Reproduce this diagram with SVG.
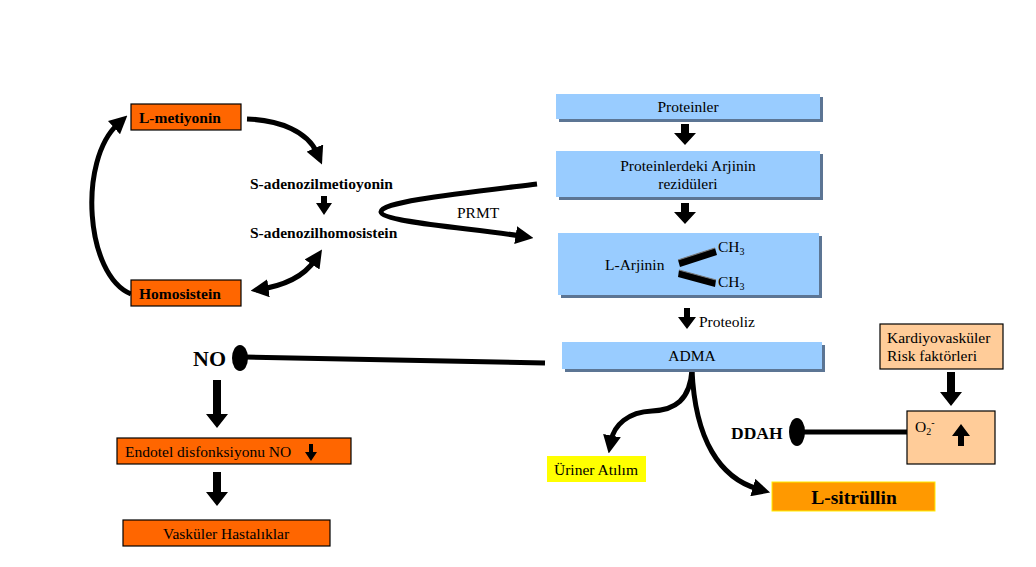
<svg xmlns="http://www.w3.org/2000/svg" width="1036" height="567" viewBox="0 0 1036 567">
<style>
text{font-family:'Liberation Serif','DejaVu Serif',serif;fill:#000}
.b{font-weight:bold}
.s13{font-size:15.5px}
.or{fill:#FF6600;stroke:#000;stroke-width:1.2}
.bl{fill:#99CCFF}
.sh{fill:#5C7594}
.ln{fill:none;stroke:#000;stroke-width:5}
</style>
<defs>
<marker id="ah" viewBox="0 0 10 10" refX="3" refY="5" markerWidth="3.6" markerHeight="3.6" orient="auto" markerUnits="strokeWidth">
<path d="M0,0 L10,5 L0,10 Z" fill="#000"/>
</marker>
<marker id="as" viewBox="0 0 10 10" refX="7" refY="5" markerWidth="3.6" markerHeight="3.6" orient="auto-start-reverse" markerUnits="strokeWidth">
<path d="M0,0 L10,5 L0,10 Z" fill="#000"/>
</marker>
</defs>
<rect width="1036" height="567" fill="#fff"/>

<g id="connectors">
<path class="ln" d="M247,119 C280,120 308,132 317,153" marker-end="url(#ah)"/>
<path class="ln" d="M131,294 C85,275 78,160 118,124" marker-end="url(#ah)"/>
<path class="ln" d="M256,290 C285,286 305,275 315,260" marker-start="url(#as)" marker-end="url(#ah)"/>
<path d="M321,196 h6 v7 h5 l-8,12 l-8,-12 h5z" fill="#000"/>
<path class="ln" d="M537,184 C455,194 380,202 381,212 C382,222 470,228 521,236" marker-end="url(#ah)"/>
<path d="M681,124 h8 v9 h7 l-11,12 l-11,-12 h7z" fill="#000"/>
<path d="M681,203 h8 v9 h7 l-11,12 l-11,-12 h7z" fill="#000"/>
<path d="M684,308 h6 v9 h6 l-9,12 l-9,-12 h6z" fill="#000"/>
<path d="M245,357 L545,363" fill="none" stroke="#000" stroke-width="5"/>
<ellipse cx="240" cy="358" rx="8" ry="13" fill="#000"/>
<path d="M213,380 h8 v34 h7 l-11,14 l-11,-14 h7z" fill="#000"/>
<path d="M213,472 h8 v20 h7 l-11,14 l-11,-14 h7z" fill="#000"/>
<path class="ln" d="M692,370 C690,400 675,410 652,411 C628,412 614,425 611,441" marker-end="url(#ah)"/>
<path class="ln" d="M692,370 C695,440 720,478 758,489" marker-end="url(#ah)"/>
<path d="M800,432 L908,432" fill="none" stroke="#000" stroke-width="5"/>
<ellipse cx="797" cy="432" rx="8" ry="14" fill="#000"/>
<path d="M947,372 h8 v20 h7 l-11,14 l-11,-14 h7z" fill="#000"/>
</g>

<g id="l-metiyonin">
<rect class="or" x="131" y="104" width="110" height="26"/>
<text class="b s13" x="139" y="123" font-family="Liberation Serif, serif">L-metiyonin</text>
</g>
<g id="homosistein">
<rect class="or" x="131" y="280" width="110" height="26"/>
<text class="b s13" x="139" y="299" font-family="Liberation Serif, serif">Homosistein</text>
</g>
<g id="sam">
<text class="b s13" x="250" y="189" font-family="Liberation Serif, serif">S-adenozilmetioyonin</text>
</g>
<g id="sah">
<text class="b s13" x="250" y="238" font-family="Liberation Serif, serif">S-adenozilhomosistein</text>
</g>
<g id="prmt">
<text class="s13" x="457" y="218" font-family="Liberation Serif, serif">PRMT</text>
</g>

<g id="proteinler">
<rect class="sh" x="559" y="97" width="264" height="25"/>
<rect class="bl" x="556" y="94" width="264" height="25"/>
<text class="s13" x="688" y="112" text-anchor="middle" font-family="Liberation Serif, serif">Proteinler</text>
</g>
<g id="arjinin-rezidu">
<rect class="sh" x="559" y="154" width="264" height="46"/>
<rect class="bl" x="556" y="151" width="264" height="46"/>
<text class="s13" x="688" y="171" text-anchor="middle" font-family="Liberation Serif, serif">Proteinlerdeki Arjinin</text>
<text class="s13" x="688" y="189" text-anchor="middle" font-family="Liberation Serif, serif">rezidüleri</text>
</g>
<g id="l-arjinin">
<rect class="sh" x="561" y="236" width="261" height="62"/>
<rect class="bl" x="558" y="233" width="261" height="62"/>
<text class="s13" x="605" y="270" font-family="Liberation Serif, serif">L-Arjinin</text>
<path d="M678,260 L715,248 L717,255 L680,267 Z" fill="#000"/>
<path d="M678,260 L715,248" stroke="#777" stroke-width="1.2"/>
<path d="M679,270 L716,280 L715,287 L678,277 Z" fill="#000"/>
<path d="M679,270 L716,280" stroke="#777" stroke-width="1.2"/>
<text class="s13" x="718" y="252" font-family="Liberation Serif, serif">CH<tspan font-size="10" dy="3">3</tspan></text>
<text class="s13" x="718" y="287" font-family="Liberation Serif, serif">CH<tspan font-size="10" dy="3">3</tspan></text>
</g>
<g id="proteoliz">
<text class="s13" x="699" y="327" font-family="Liberation Serif, serif">Proteoliz</text>
</g>
<g id="adma">
<rect class="sh" x="565" y="345" width="260" height="27"/>
<rect class="bl" x="562" y="342" width="260" height="27"/>
<text class="s13" x="692" y="361" text-anchor="middle" font-family="Liberation Serif, serif">ADMA</text>
</g>

<g id="no">
<text class="b" x="193" y="366" font-size="22" font-family="Liberation Serif, serif">NO</text>
</g>
<g id="endotel">
<rect class="or" x="117" y="438" width="234" height="26"/>
<text class="s13" x="125" y="457" font-family="Liberation Serif, serif">Endotel disfonksiyonu NO</text>
<path d="M309,444 h4 v8 h4 l-6,9 l-6,-9 h4z" fill="#000"/>
</g>
<g id="vaskuler">
<rect class="or" x="123" y="520" width="207" height="26"/>
<text class="s13" x="226" y="539" text-anchor="middle" font-family="Liberation Serif, serif">Vasküler Hastalıklar</text>
</g>

<g id="uriner">
<rect x="547" y="456" width="99" height="26" fill="#FFFF00"/>
<text class="s13" x="596" y="475" text-anchor="middle" font-family="Liberation Serif, serif">Üriner Atılım</text>
</g>
<g id="l-sitrullin">
<rect x="772" y="482" width="163" height="29" fill="#FF9900" stroke="#FFEE00" stroke-width="1"/>
<text class="b" x="854" y="504" font-size="19.5" text-anchor="middle" font-family="Liberation Serif, serif">L-sitrüllin</text>
</g>
<g id="ddah">
<text class="b" x="731" y="439" font-size="17.5" font-family="Liberation Serif, serif">DDAH</text>
</g>
<g id="o2">
<rect x="907" y="411" width="88" height="53" fill="#FFCC99" stroke="#000" stroke-width="1.2"/>
<text class="s13" x="915" y="432" font-family="Liberation Serif, serif">O<tspan font-size="10" dy="3">2</tspan><tspan font-size="10" dy="-9">-</tspan></text>
<path d="M958,446 h6 v-10 h6 l-9,-12 l-9,12 h6z" fill="#000"/>
</g>
<g id="risk">
<rect x="880" y="324" width="123" height="45" fill="#FFCC99" stroke="#000" stroke-width="1.2"/>
<text class="s13" x="887" y="343" font-family="Liberation Serif, serif">Kardiyovasküler</text>
<text class="s13" x="887" y="361" font-family="Liberation Serif, serif">Risk faktörleri</text>
</g>
</svg>
